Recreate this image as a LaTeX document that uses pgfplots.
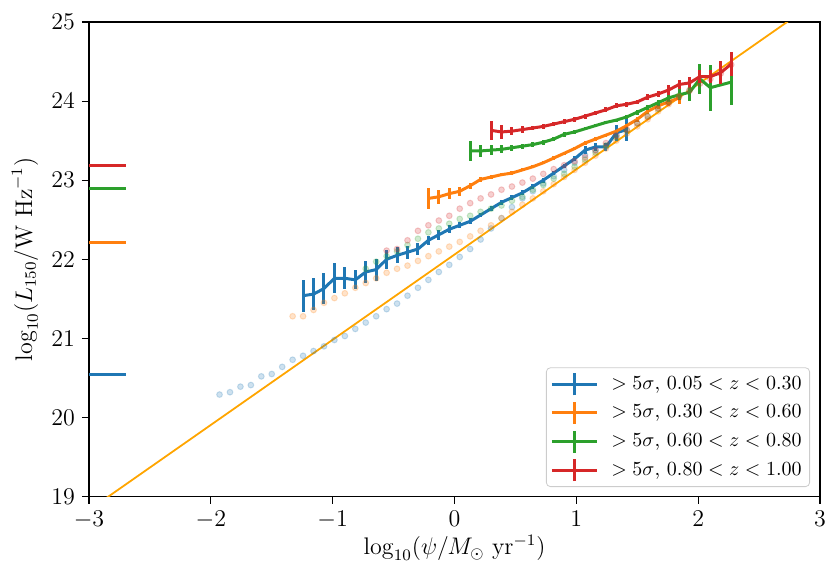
\documentclass[border=0pt]{standalone}
\usepackage{pgfplots}
\pgfplotsset{compat=1.18}
\definecolor{tabblue}{HTML}{1F77B4}
\definecolor{taborange}{HTML}{FF7F0E}
\definecolor{tabgreen}{HTML}{2CA02C}
\definecolor{tabred}{HTML}{D62728}
\definecolor{plainorange}{HTML}{FFA500}
\begin{document}
\begin{tikzpicture}
\useasboundingbox (-44.5pt,-43.2pt) rectangle (375pt,248.3pt);
\begin{axis}[
  width=365.5pt, height=237.3pt, scale only axis,
  xmin=-3, xmax=3, ymin=19, ymax=25,
  xtick={-3,-2,-1,0,1,2,3}, ytick={19,20,21,22,23,24,25},
  tick align=outside, major tick length=3.5pt,
  xtick pos=left, ytick pos=left,
  tick style={black, line width=0.6pt},
  axis line style={line width=0.6pt},
  tick label style={font=\fontsize{11.5}{13}\selectfont},
  xlabel={$\log_{10}(\psi/M_\odot\ \mathrm{yr}^{-1})$},
  ylabel={$\log_{10}(L_{150}/\mathrm{W\ Hz}^{-1})$},
  every axis x label/.style={at={(axis description cs:0.5,-0.1083)}, anchor=center, font=\fontsize{11.5}{13}\selectfont},
  every axis y label/.style={at={(axis description cs:-0.0876,0.5)}, rotate=90, anchor=center, font=\fontsize{11.5}{13}\selectfont},
  legend style={at={(1,0)}, anchor=south east, xshift=-5pt, yshift=4.8pt,
    draw=black!20, rounded corners=2pt, fill=white,
    font=\fontsize{10.1}{12}\selectfont, row sep=1.8pt, inner sep=2pt,
    /tikz/every odd column/.append style={column sep=4.5pt}},
  legend cell align=left,
  legend image code/.code={
    \draw[line width=1.5pt] (0pt,0pt) -- (22.5pt,0pt);
    \draw[line width=1.5pt] (11.25pt,-5.5pt) -- (11.25pt,5.5pt);
  },
]
% reference relation
\addplot[plainorange, line width=0.9pt, forget plot] coordinates {(-3,18.829) (3,25.291)};

% faint points, all sources
\addplot[only marks, mark=*, mark size=1.45pt, tabblue, mark options={fill opacity=0.22, draw opacity=0.22, line width=0.5pt}, forget plot] table {
x y
-1.9286 20.29
-1.8429 20.32
-1.7571 20.39
-1.6714 20.41
-1.5857 20.52
-1.5000 20.55
-1.4143 20.64
-1.3286 20.73
-1.2429 20.78
-1.1571 20.84
-1.0714 20.90
-0.9857 20.98
-0.9000 21.03
-0.8143 21.12
-0.7286 21.20
-0.6429 21.28
-0.5571 21.37
-0.4714 21.44
-0.3857 21.54
-0.3000 21.64
-0.2143 21.74
-0.1286 21.84
-0.0429 21.93
0.0429 22.03
0.1286 22.13
0.2143 22.25
0.3000 22.39
0.3857 22.52
0.4714 22.66
0.5571 22.77
0.6429 22.86
0.7286 22.96
0.8143 23.05
0.9000 23.13
0.9857 23.22
1.0714 23.32
1.1571 23.38
1.2429 23.42
1.3286 23.57
};
\addplot[only marks, mark=*, mark size=1.45pt, taborange, mark options={fill opacity=0.22, draw opacity=0.22, line width=0.5pt}, forget plot] table {
x y
-1.3286 21.28
-1.2429 21.28
-1.1571 21.36
-1.0714 21.45
-0.9857 21.51
-0.9000 21.57
-0.8143 21.64
-0.7286 21.70
-0.6429 21.76
-0.5571 21.83
-0.4714 21.88
-0.3857 21.92
-0.3000 21.98
-0.2143 22.04
-0.1286 22.10
-0.0429 22.16
0.0429 22.22
0.1286 22.29
0.2143 22.36
0.3000 22.43
0.3857 22.52
0.4714 22.60
0.5571 22.69
0.6429 22.77
0.7286 22.86
0.8143 22.95
0.9000 23.04
0.9857 23.13
1.0714 23.22
1.1571 23.31
1.2429 23.40
1.3286 23.50
1.4143 23.59
1.5000 23.68
1.5857 23.77
1.6714 23.87
1.7571 23.96
1.8429 24.06
};
\addplot[only marks, mark=*, mark size=1.45pt, tabgreen, mark options={fill opacity=0.22, draw opacity=0.22, line width=0.5pt}, forget plot] table {
x y
-0.7286 21.88
-0.6429 21.97
-0.5571 22.04
-0.4714 22.10
-0.3857 22.18
-0.3000 22.26
-0.2143 22.34
-0.1286 22.39
-0.0429 22.45
0.0429 22.51
0.1286 22.55
0.2143 22.60
0.3000 22.64
0.3857 22.68
0.4714 22.74
0.5571 22.79
0.6429 22.88
0.7286 22.94
0.8143 23.02
0.9000 23.08
0.9857 23.17
1.0714 23.26
1.1571 23.35
1.2429 23.44
1.3286 23.54
1.4143 23.63
1.5000 23.72
1.5857 23.81
1.6714 23.90
1.7571 23.99
1.8429 24.07
1.9286 24.14
};
\addplot[only marks, mark=*, mark size=1.45pt, tabred, mark options={fill opacity=0.22, draw opacity=0.22, line width=0.5pt}, forget plot] table {
x y
-0.5571 22.11
-0.4714 22.13
-0.3857 22.24
-0.3000 22.36
-0.2143 22.43
-0.1286 22.49
-0.0429 22.55
0.0429 22.64
0.1286 22.71
0.2143 22.77
0.3000 22.82
0.3857 22.88
0.4714 22.92
0.5571 22.97
0.6429 23.02
0.7286 23.08
0.8143 23.14
0.9000 23.19
0.9857 23.24
1.0714 23.29
1.1571 23.38
1.2429 23.47
1.3286 23.56
1.4143 23.64
1.5000 23.72
1.5857 23.80
1.6714 23.91
1.7571 23.98
1.8429 24.05
1.9286 24.13
2.0143 24.22
2.1000 24.28
2.1857 24.35
2.2714 24.46
};

% >5 sigma binned lines
\addplot[tabblue, line width=1.5pt, mark=none,
  error bars/.cd, y dir=both, y explicit, error mark=none,
  error bar style={line width=1.5pt}] coordinates {
(-1.2429,21.54) +- (0,0.20)
(-1.1571,21.56) +- (0,0.20)
(-1.0714,21.63) +- (0,0.20)
(-0.9857,21.76) +- (0,0.19)
(-0.9000,21.76) +- (0,0.14)
(-0.8143,21.74) +- (0,0.12)
(-0.7286,21.84) +- (0,0.14)
(-0.6429,21.87) +- (0,0.14)
(-0.5571,22.00) +- (0,0.12)
(-0.4714,22.05) +- (0,0.10)
(-0.3857,22.09) +- (0,0.08)
(-0.3000,22.13) +- (0,0.07)
(-0.2143,22.24) +- (0,0.06)
(-0.1286,22.31) +- (0,0.06)
(-0.0429,22.38) +- (0,0.05)
(0.0429,22.43) +- (0,0.04)
(0.1286,22.48) +- (0,0.04)
(0.2143,22.56) +- (0,0.03)
(0.3000,22.64) +- (0,0.03)
(0.3857,22.72) +- (0,0.03)
(0.4714,22.78) +- (0,0.03)
(0.5571,22.84) +- (0,0.03)
(0.6429,22.92) +- (0,0.03)
(0.7286,23.00) +- (0,0.03)
(0.8143,23.09) +- (0,0.03)
(0.9000,23.18) +- (0,0.03)
(0.9857,23.27) +- (0,0.03)
(1.0714,23.38) +- (0,0.05)
(1.1571,23.42) +- (0,0.05)
(1.2429,23.42) +- (0,0.05)
(1.3286,23.60) +- (0,0.10)
(1.4143,23.64) +- (0,0.15)
};
\addlegendentry{$>5\sigma$, $0.05<z<0.30$}

\addplot[taborange, line width=1.5pt, mark=none,
  error bars/.cd, y dir=both, y explicit, error mark=none,
  error bar style={line width=1.5pt}] coordinates {
(-0.2143,22.77) +- (0,0.13)
(-0.1286,22.79) +- (0,0.09)
(-0.0429,22.83) +- (0,0.07)
(0.0429,22.86) +- (0,0.06)
(0.1286,22.93) +- (0,0.04)
(0.2143,23.01) +- (0,0.03)
(0.3000,23.04) +- (0,0.02)
(0.3857,23.07) +- (0,0.02)
(0.4714,23.09) +- (0,0.02)
(0.5571,23.13) +- (0,0.02)
(0.6429,23.17) +- (0,0.02)
(0.7286,23.22) +- (0,0.02)
(0.8143,23.28) +- (0,0.02)
(0.9000,23.34) +- (0,0.02)
(0.9857,23.40) +- (0,0.02)
(1.0714,23.47) +- (0,0.02)
(1.1571,23.52) +- (0,0.02)
(1.2429,23.57) +- (0,0.02)
(1.3286,23.62) +- (0,0.02)
(1.4143,23.69) +- (0,0.02)
(1.5000,23.77) +- (0,0.03)
(1.5857,23.87) +- (0,0.03)
(1.6714,23.94) +- (0,0.04)
(1.7571,23.99) +- (0,0.05)
(1.8429,24.04) +- (0,0.08)
};
\addlegendentry{$>5\sigma$, $0.30<z<0.60$}

\addplot[tabgreen, line width=1.5pt, mark=none,
  error bars/.cd, y dir=both, y explicit, error mark=none,
  error bar style={line width=1.5pt}] coordinates {
(0.1286,23.37) +- (0,0.13)
(0.2143,23.37) +- (0,0.08)
(0.3000,23.38) +- (0,0.06)
(0.3857,23.39) +- (0,0.05)
(0.4714,23.41) +- (0,0.04)
(0.5571,23.43) +- (0,0.03)
(0.6429,23.45) +- (0,0.03)
(0.7286,23.48) +- (0,0.03)
(0.8143,23.52) +- (0,0.03)
(0.9000,23.58) +- (0,0.03)
(0.9857,23.61) +- (0,0.02)
(1.0714,23.65) +- (0,0.02)
(1.1571,23.69) +- (0,0.02)
(1.2429,23.73) +- (0,0.02)
(1.3286,23.76) +- (0,0.02)
(1.4143,23.80) +- (0,0.02)
(1.5000,23.86) +- (0,0.03)
(1.5857,23.92) +- (0,0.03)
(1.6714,23.98) +- (0,0.04)
(1.7571,24.04) +- (0,0.05)
(1.8429,24.08) +- (0,0.07)
(1.9286,24.11) +- (0,0.11)
(2.0143,24.28) +- (0,0.19)
(2.1000,24.17) +- (0,0.29)
(2.2714,24.24) +- (0,0.29)
};
\addlegendentry{$>5\sigma$, $0.60<z<0.80$}

\addplot[tabred, line width=1.5pt, mark=none,
  error bars/.cd, y dir=both, y explicit, error mark=none,
  error bar style={line width=1.5pt}] coordinates {
(0.3000,23.63) +- (0,0.12)
(0.3857,23.61) +- (0,0.09)
(0.4714,23.62) +- (0,0.05)
(0.5571,23.64) +- (0,0.04)
(0.6429,23.66) +- (0,0.03)
(0.7286,23.68) +- (0,0.03)
(0.8143,23.71) +- (0,0.03)
(0.9000,23.74) +- (0,0.03)
(0.9857,23.77) +- (0,0.03)
(1.0714,23.81) +- (0,0.03)
(1.1571,23.85) +- (0,0.03)
(1.2429,23.89) +- (0,0.03)
(1.3286,23.94) +- (0,0.03)
(1.4143,23.96) +- (0,0.03)
(1.5000,23.99) +- (0,0.03)
(1.5857,24.05) +- (0,0.04)
(1.6714,24.09) +- (0,0.04)
(1.7571,24.14) +- (0,0.06)
(1.8429,24.21) +- (0,0.06)
(1.9286,24.23) +- (0,0.07)
(2.0143,24.31) +- (0,0.08)
(2.1000,24.31) +- (0,0.08)
(2.1857,24.36) +- (0,0.15)
(2.2714,24.47) +- (0,0.15)
};
\addlegendentry{$>5\sigma$, $0.80<z<1.00$}

% level markers at the left edge
\addplot[tabred, line width=1.5pt, forget plot] coordinates {(-3,23.18) (-2.7,23.18)};
\addplot[tabgreen, line width=1.5pt, forget plot] coordinates {(-3,22.89) (-2.7,22.89)};
\addplot[taborange, line width=1.5pt, forget plot] coordinates {(-3,22.21) (-2.7,22.21)};
\addplot[tabblue, line width=1.5pt, forget plot] coordinates {(-3,20.54) (-2.7,20.54)};
\end{axis}
\end{tikzpicture}
\end{document}
